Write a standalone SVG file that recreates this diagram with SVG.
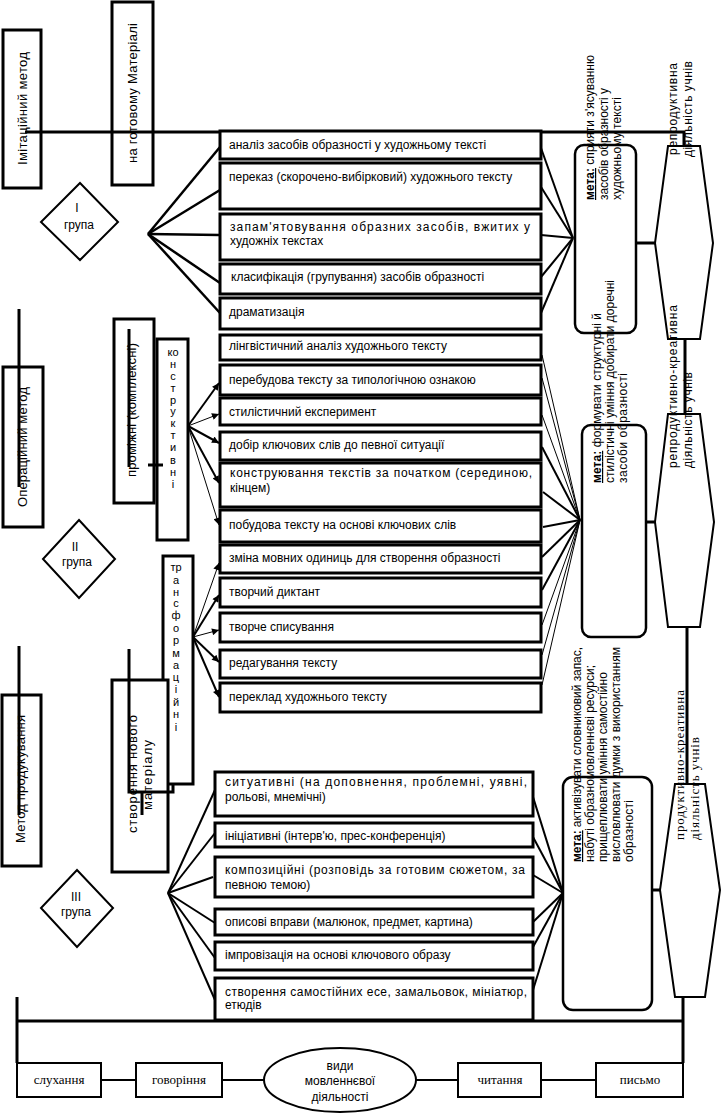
<svg xmlns="http://www.w3.org/2000/svg" width="722" height="1119" viewBox="0 0 722 1119">
<style>
.bx{fill:#fff;stroke:#000;stroke-width:3}
.bm{fill:#fff;stroke:#000;stroke-width:3}
.bb{fill:#fff;stroke:#000;stroke-width:2}
.gl{fill:#fff;stroke:#000;stroke-width:2.5}
.hx{fill:#fff;stroke:#000;stroke-width:2}
.t{font-family:"Liberation Sans",Arial,sans-serif;font-size:12px;fill:#000}
.tm{font-family:"Liberation Sans",Arial,sans-serif;font-size:13px;fill:#000}
.sr{font-family:"Liberation Serif","Times New Roman",serif;font-size:13px;fill:#000}
.lt{font-family:"Liberation Sans",Arial,sans-serif;font-size:11px;fill:#000;text-anchor:middle}
.c{text-anchor:middle}
.ln{stroke:#000;stroke-width:2;fill:none}
.lk{stroke:#000;stroke-width:3;fill:none}
.th{stroke:#000;stroke-width:1;fill:none}
.b{font-weight:bold;text-decoration:underline}
</style>
<defs>
<marker id="ah" viewBox="0 0 10 10" refX="10" refY="5" markerWidth="9" markerHeight="7" markerUnits="userSpaceOnUse" orient="auto"><path d="M0,0 L10,5 L0,10 z" fill="#000"/></marker>
</defs>

<!-- method nodes -->
<g id="m-imit"><rect class="bm" x="3" y="30" width="38" height="158"/><text class="tm" transform="translate(27,165) rotate(-90)" textLength="113">Імітаційний метод</text></g>
<g id="m-ready"><rect class="bm" x="112" y="2" width="41" height="183"/><text class="tm" transform="translate(137,163) rotate(-90)" textLength="140">на готовому Матеріалі</text></g>
<g id="m-oper"><rect class="bm" x="3" y="367" width="40" height="160"/><text class="tm" transform="translate(27,507) rotate(-90)" textLength="120">Операційний метод</text></g>
<g id="m-inter"><rect class="bm" x="114" y="319" width="40" height="184"/><text class="tm" transform="translate(136,477) rotate(-90)" textLength="134">проміжні (комплексні)</text></g>
<g id="m-constr"><rect class="bm" x="157" y="339" width="31" height="201"/>
<text class="lt"><tspan x="173" y="356">ко</tspan><tspan x="173" y="368">н</tspan><tspan x="173" y="380">с</tspan><tspan x="173" y="392">т</tspan><tspan x="173" y="404">р</tspan><tspan x="173" y="415">у</tspan><tspan x="173" y="427">к</tspan><tspan x="173" y="439">т</tspan><tspan x="173" y="451">и</tspan><tspan x="173" y="464">в</tspan><tspan x="173" y="476">н</tspan><tspan x="173" y="488">і</tspan></text></g>
<g id="m-transf"><rect class="bm" x="163" y="556" width="30" height="228"/>
<text class="lt"><tspan x="176" y="571">тр</tspan><tspan x="176" y="584">а</tspan><tspan x="176" y="596">н</tspan><tspan x="176" y="607">с</tspan><tspan x="176" y="619">ф</tspan><tspan x="176" y="632">о</tspan><tspan x="176" y="644">р</tspan><tspan x="176" y="657">м</tspan><tspan x="176" y="669">а</tspan><tspan x="176" y="681">ц</tspan><tspan x="176" y="693">і</tspan><tspan x="176" y="706">й</tspan><tspan x="176" y="718">н</tspan><tspan x="176" y="731">і</tspan></text></g>
<g id="m-prod"><rect class="bm" x="2" y="695" width="39" height="171"/><text class="tm" transform="translate(25,843) rotate(-90)" textLength="128">Метод продукування</text></g>
<g id="m-new"><rect class="bm" x="112" y="680" width="56" height="192"/><text class="tm" transform="translate(137,833) rotate(-90)" textLength="118">створення нового</text><text class="tm" transform="translate(152,810) rotate(-90)" textLength="70">матеріалу</text></g>

<!-- group diamonds -->
<g id="g1"><polygon class="hx" points="80,183 118,222 80,260 41,222"/><text class="t c" x="77" y="212">I</text><text class="t c" x="79" y="229">група</text></g>
<g id="g2"><polygon class="hx" points="79,520 115,559 79,598 43,559"/><text class="t c" x="75" y="551">II</text><text class="t c" x="77" y="566">група</text></g>
<g id="g3"><polygon class="hx" points="77,870 113,908 77,947 41,908"/><text class="t c" x="76" y="901">III</text><text class="t c" x="76" y="916">група</text></g>

<!-- connectors -->
<g id="connectors">
<polyline class="lk" points="25,132 684,132 684,146"/>
<g class="ln" style="stroke-width:2.5">
<line x1="148" y1="234" x2="220" y2="147"/><line x1="148" y1="234" x2="220" y2="190"/><line x1="148" y1="234" x2="220" y2="235"/><line x1="148" y1="234" x2="220" y2="283"/><line x1="148" y1="234" x2="220" y2="313"/>
</g>
<g class="ln">
<line x1="573" y1="238" x2="541" y2="148"/><line x1="573" y1="238" x2="541" y2="187"/><line x1="573" y1="238" x2="541" y2="235"/><line x1="573" y1="238" x2="541" y2="277"/><line x1="573" y1="238" x2="541" y2="313"/>
</g>
<g>
<line class="th" x1="580" y1="520" x2="542" y2="355"/><line class="th" x1="580" y1="520" x2="542" y2="378"/><line class="th" x1="580" y1="520" x2="542" y2="415"/><line class="ln" x1="580" y1="520" x2="542" y2="447"/><line class="ln" x1="580" y1="520" x2="543" y2="492"/><line class="ln" x1="580" y1="520" x2="543" y2="527"/><line class="ln" x1="580" y1="520" x2="542" y2="557"/><line class="ln" x1="580" y1="520" x2="542" y2="590"/><line class="th" x1="580" y1="520" x2="542" y2="625"/><line class="th" x1="580" y1="520" x2="542" y2="655"/><line class="th" x1="580" y1="520" x2="542" y2="685"/>
</g>
<g class="ln">
<line x1="168" y1="893" x2="215" y2="790"/><line x1="168" y1="893" x2="215" y2="833"/><line x1="168" y1="893" x2="213" y2="877"/><line x1="168" y1="893" x2="215" y2="923"/><line x1="168" y1="893" x2="215" y2="958"/><line x1="168" y1="893" x2="215" y2="1000"/>
<line x1="563" y1="893" x2="533" y2="797"/><line x1="563" y1="893" x2="533" y2="837"/><line x1="563" y1="893" x2="533" y2="875"/><line x1="563" y1="893" x2="533" y2="922"/><line x1="563" y1="893" x2="533" y2="947"/><line x1="563" y1="893" x2="533" y2="990"/>
</g>
<g marker-end="url(#ah)">
<line class="ln" x1="188" y1="426" x2="219" y2="383"/><line class="th" x1="188" y1="426" x2="219" y2="414"/><line class="ln" x1="188" y1="426" x2="219" y2="443"/><line class="ln" x1="188" y1="426" x2="219" y2="483"/><line class="th" x1="188" y1="426" x2="219" y2="525"/>
<line class="th" x1="193" y1="637" x2="219" y2="563"/><line class="ln" x1="193" y1="637" x2="219" y2="595"/><line class="th" x1="193" y1="637" x2="219" y2="630"/><line class="ln" x1="193" y1="637" x2="219" y2="662"/><line class="ln" x1="193" y1="637" x2="219" y2="697"/>
</g>
<g class="lk">
<line x1="636" y1="243" x2="655" y2="243"/><line x1="640" y1="522" x2="655" y2="522"/><line x1="652" y1="890" x2="660" y2="890"/>
<line x1="685" y1="339" x2="685" y2="414"/><line x1="687" y1="627" x2="687" y2="784"/><line x1="683" y1="997" x2="683" y2="1063"/>
<line x1="17" y1="1021" x2="683" y2="1021"/><line x1="17" y1="997" x2="17" y2="1063"/>
</g>
<g class="ln">
<line x1="101" y1="1080" x2="136" y2="1080"/><line x1="222" y1="1080" x2="264" y2="1080"/><line x1="416" y1="1080" x2="458" y2="1080"/><line x1="541" y1="1080" x2="596" y2="1080"/>
</g>
</g>

<!-- activity boxes group I -->
<g id="b1"><rect class="bx" x="220" y="131" width="321" height="28"/><text class="t" x="229" y="149">аналіз засобів образності у художньому тексті</text></g>
<g id="b2"><rect class="bx" x="220" y="163" width="321" height="46"/><text class="t" x="229" y="181">переказ (скорочено-вибірковий) художнього тексту</text></g>
<g id="b3"><rect class="bx" x="220" y="214" width="321" height="46"/><text class="t" x="230" y="231" textLength="300" lengthAdjust="spacing">запам'ятовування образних засобів, вжитих у</text><text class="t" x="230" y="245">художніх текстах</text></g>
<g id="b4"><rect class="bx" x="220" y="264" width="321" height="30"/><text class="t" x="231" y="281">класифікація (групування) засобів образності</text></g>
<g id="b5"><rect class="bx" x="220" y="298" width="321" height="31"/><text class="t" x="229" y="316">драматизація</text></g>
<!-- group II -->
<g id="b6"><rect class="bx" x="220" y="335" width="321" height="25"/><text class="t" x="229" y="350">лінгвістичний аналіз художнього тексту</text></g>
<g id="b7"><rect class="bx" x="220" y="365" width="321" height="30"/><text class="t" x="229" y="384">перебудова тексту за типологічною ознакою</text></g>
<g id="b8"><rect class="bx" x="220" y="398" width="321" height="27"/><text class="t" x="229" y="416">стилістичний експеримент</text></g>
<g id="b9"><rect class="bx" x="220" y="432" width="321" height="28"/><text class="t" x="229" y="449">добір ключових слів до певної ситуації</text></g>
<g id="b10"><rect class="bx" x="220" y="463" width="321" height="44"/><text class="t" x="230" y="477" textLength="302" lengthAdjust="spacing">конструювання текстів за початком (серединою,</text><text class="t" x="230" y="492">кінцем)</text></g>
<g id="b11"><rect class="bx" x="220" y="510" width="321" height="32"/><text class="t" x="229" y="529">побудова тексту на основі ключових слів</text></g>
<g id="b12"><rect class="bx" x="220" y="545" width="321" height="28"/><text class="t" x="229" y="562">зміна мовних одиниць для створення образності</text></g>
<g id="b13"><rect class="bx" x="220" y="578" width="321" height="29"/><text class="t" x="229" y="596">творчий диктант</text></g>
<g id="b14"><rect class="bx" x="220" y="613" width="321" height="29"/><text class="t" x="229" y="631">творче списування</text></g>
<g id="b15"><rect class="bx" x="220" y="650" width="321" height="28"/><text class="t" x="229" y="667">редагування тексту</text></g>
<g id="b16"><rect class="bx" x="220" y="683" width="321" height="29"/><text class="t" x="229" y="701">переклад художнього тексту</text></g>
<!-- group III -->
<g id="b17"><rect class="bx" x="215" y="772" width="318" height="44"/><text class="t" x="225" y="786" textLength="302" lengthAdjust="spacing">ситуативні (на доповнення, проблемні, уявні,</text><text class="t" x="225" y="801">рольові, мнемічні)</text></g>
<g id="b18"><rect class="bx" x="215" y="823" width="318" height="24"/><text class="t" x="225" y="840">ініціативні (інтерв'ю, прес-конференція)</text></g>
<g id="b19"><rect class="bx" x="215" y="857" width="318" height="40"/><text class="t" x="225" y="874" textLength="300" lengthAdjust="spacing">композиційні (розповідь за готовим сюжетом, за</text><text class="t" x="225" y="889">певною темою)</text></g>
<g id="b20"><rect class="bx" x="215" y="909" width="318" height="26"/><text class="t" x="225" y="926">описові вправи (малюнок, предмет, картина)</text></g>
<g id="b21"><rect class="bx" x="215" y="942" width="318" height="28"/><text class="t" x="225" y="959">імпровізація на основі ключового образу</text></g>
<g id="b22"><rect class="bx" x="215" y="978" width="318" height="42"/><text class="t" x="225" y="996" textLength="302" lengthAdjust="spacing">створення самостійних есе, замальовок, мініатюр,</text><text class="t" x="225" y="1009">етюдів</text></g>

<!-- goal boxes -->
<g id="goal1"><rect class="gl" x="575" y="145" width="61" height="188" rx="9"/></g>
<g id="goal2"><rect class="gl" x="582" y="425" width="64" height="212" rx="9"/></g>
<g id="goal3"><rect class="gl" x="563" y="777" width="89" height="233" rx="10"/></g>

<!-- hexagons -->
<g id="hex1"><polygon class="hx" points="668,146 700,146 713,243 700,339 668,339 655,243"/></g>
<g id="hex2"><polygon class="hx" points="668,414 700,414 714,522 700,627 668,627 655,522"/></g>
<g id="hex3"><polygon class="hx" points="675,784 705,784 720,890 705,997 675,997 660,890"/></g>

<!-- overlaid lines through method boxes -->
<g id="method-links" class="lk">
<line x1="19" y1="309" x2="19" y2="487"/><line x1="19" y1="646" x2="19" y2="815"/>
<line x1="129" y1="329" x2="129" y2="467"/><line x1="148" y1="465" x2="163" y2="465"/>
<polyline points="129,649 129,792 173,792 173,784"/><line x1="142" y1="792" x2="142" y2="815"/>
</g>

<!-- goal texts -->
<g id="goal1-text">
<text class="t" transform="translate(594,200) rotate(-90)" textLength="145"><tspan class="b">мета:</tspan> сприяти з'ясуванню</text>
<text class="t" transform="translate(608,200) rotate(-90)" textLength="112">засобів образності у</text>
<text class="t" transform="translate(621,200) rotate(-90)" textLength="103">художньому тексті</text>
</g>
<g id="goal2-text">
<text class="t" transform="translate(601,483) rotate(-90)" textLength="170"><tspan class="b">мета:</tspan> формувати структурні й</text>
<text class="t" transform="translate(614,483) rotate(-90)" textLength="203">стилістичні уміння добирати доречні</text>
<text class="t" transform="translate(627,483) rotate(-90)" textLength="110">засоби образності</text>
</g>
<g id="goal3-text">
<text class="t" transform="translate(581,862) rotate(-90)" textLength="215"><tspan class="b">мета:</tspan> активізувати словниковий запас,</text>
<text class="t" transform="translate(594,862) rotate(-90)" textLength="197">набуті образномовленнєві ресурси;</text>
<text class="t" transform="translate(607,862) rotate(-90)" textLength="190">прищеплювати уміння самостійно</text>
<text class="t" transform="translate(620,862) rotate(-90)" textLength="215">висловлювати думки з використанням</text>
<text class="t" transform="translate(633,862) rotate(-90)" textLength="62">образності</text>
</g>
<g id="hex-text">
<text class="t" transform="translate(677,155) rotate(-90)" textLength="92">репродуктивна</text>
<text class="t" transform="translate(692,157) rotate(-90)" textLength="96">діяльність учнів</text>
<text class="t" transform="translate(677,468) rotate(-90)" textLength="163">репродуктивно-креативна</text>
<text class="t" transform="translate(692,468) rotate(-90)" textLength="96">діяльність учнів</text>
<text class="sr" transform="translate(684,840) rotate(-90)" textLength="150">продуктивно-креативна</text>
<text class="sr" transform="translate(699,840) rotate(-90)" textLength="103">діяльність учнів</text>
</g>

<!-- bottom: kinds of speech activity -->
<g id="n-listen"><rect class="bb" x="17" y="1063" width="84" height="34"/><text class="sr c" x="59" y="1084">слухання</text></g>
<g id="n-speak"><rect class="bb" x="136" y="1063" width="86" height="34"/><text class="sr c" x="179" y="1084">говоріння</text></g>
<g id="n-kinds"><ellipse class="bb" cx="340" cy="1080" rx="76" ry="32"/><text class="t c" x="340" y="1070">види</text><text class="t c" x="340" y="1085">мовленнєвої</text><text class="t c" x="340" y="1101">діяльності</text></g>
<g id="n-read"><rect class="bb" x="458" y="1063" width="83" height="34"/><text class="sr c" x="500" y="1084">читання</text></g>
<g id="n-write"><rect class="bb" x="596" y="1063" width="87" height="34"/><text class="sr c" x="640" y="1084">письмо</text></g>
</svg>
